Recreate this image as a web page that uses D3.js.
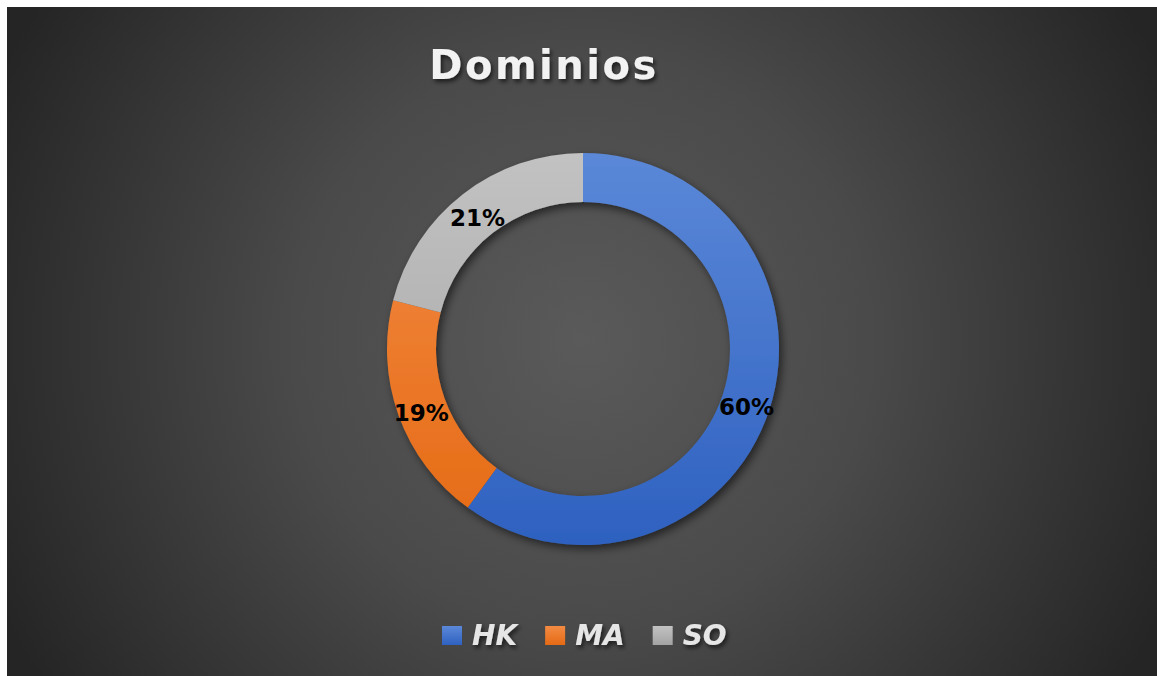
<!DOCTYPE html>
<html>
<head>
<meta charset="utf-8">
<script src="https://cdn.jsdelivr.net/npm/d3@7"></script>
<style>
  html, body { margin: 0; padding: 0; background: #fff; }
  svg { display: block; }
</style>
</head>
<body>
<script>
var categories = ["HK", "MA", "SO"];
var values = [60, 19, 21];
var colorsTop = ["#5b88d8", "#f38b44", "#c2c2c2"];
var colorsBottom = ["#2e61c0", "#e56a14", "#a3a3a3"];

var width = 1157,
  height = 676,
  cx = 583,
  cy = 349,
  outerR = 196,
  innerR = 147;

var font = "DejaVu Sans, Verdana, sans-serif";

var svg = d3.select("body").append("svg")
  .attr("width", width)
  .attr("height", height);

var defs = svg.append("defs");

var bg = defs.append("radialGradient")
  .attr("id", "bg")
  .attr("gradientUnits", "userSpaceOnUse")
  .attr("cx", 582).attr("cy", 341).attr("r", 640);
bg.append("stop").attr("offset", "0%").attr("stop-color", "#5a5a5a");
bg.append("stop").attr("offset", "45%").attr("stop-color", "#4a4a4a");
bg.append("stop").attr("offset", "100%").attr("stop-color", "#252525");

// slice gradients, in the donut group's coordinates
categories.forEach(function(c, i) {
  var g = defs.append("linearGradient")
    .attr("id", "grad" + i)
    .attr("gradientUnits", "userSpaceOnUse")
    .attr("x1", 0).attr("y1", -outerR)
    .attr("x2", 0).attr("y2", outerR);
  g.append("stop").attr("offset", "0%").attr("stop-color", colorsTop[i]);
  g.append("stop").attr("offset", "100%").attr("stop-color", colorsBottom[i]);

  var lg = defs.append("linearGradient")
    .attr("id", "lgrad" + i)
    .attr("x1", 0).attr("y1", 0).attr("x2", 0).attr("y2", 1);
  lg.append("stop").attr("offset", "0%").attr("stop-color", colorsTop[i]);
  lg.append("stop").attr("offset", "100%").attr("stop-color", colorsBottom[i]);
});

var shadow = defs.append("filter").attr("id", "shadow")
  .attr("x", "-20%").attr("y", "-20%").attr("width", "140%").attr("height", "140%");
shadow.append("feDropShadow")
  .attr("dx", 3).attr("dy", 4).attr("stdDeviation", 4)
  .attr("flood-color", "#000").attr("flood-opacity", 0.55);

var textShadow = defs.append("filter").attr("id", "textShadow")
  .attr("x", "-20%").attr("y", "-30%").attr("width", "140%").attr("height", "160%");
textShadow.append("feDropShadow")
  .attr("dx", 2).attr("dy", 3).attr("stdDeviation", 2)
  .attr("flood-color", "#000").attr("flood-opacity", 0.6);

// background panel
svg.append("rect")
  .attr("x", 7).attr("y", 7)
  .attr("width", width - 7).attr("height", height - 7)
  .attr("fill", "url(#bg)");

// title
svg.append("text")
  .attr("x", 544).attr("y", 79)
  .attr("text-anchor", "middle")
  .attr("font-family", font)
  .attr("font-weight", "bold")
  .attr("font-size", 40)
  .attr("letter-spacing", 2.5)
  .attr("fill", "#f2f2f2")
  .attr("filter", "url(#textShadow)")
  .text("Dominios");

var pie = d3.pie().sort(null).value(function(d) { return d; });
var arc = d3.arc().innerRadius(innerR).outerRadius(outerR);
var total = d3.sum(values);
var arcs = pie(values);

var chart = svg.append("g")
  .attr("transform", "translate(" + cx + "," + cy + ")");

chart.append("g")
  .attr("filter", "url(#shadow)")
  .selectAll("path")
  .data(arcs)
  .enter()
  .append("path")
  .attr("d", arc)
  .attr("fill", function(d, i) { return "url(#grad" + i + ")"; });

var labelArc = d3.arc().innerRadius(172).outerRadius(172);

chart.selectAll(".label")
  .data(arcs)
  .enter()
  .append("text")
  .attr("class", "label")
  .attr("transform", function(d) { var p = labelArc.centroid(d); return "translate(" + p[0] + "," + (p[1] + 5) + ")"; })
  .attr("text-anchor", "middle")
  .attr("dy", "0.36em")
  .attr("font-family", font)
  .attr("font-weight", "bold")
  .attr("font-size", 23)
  .attr("fill", "#000")
  .text(function(d) { return Math.round(d.value / total * 100) + "%"; });

// legend
var legend = svg.append("g").attr("transform", "translate(0,635)");
var lx = 442;
categories.forEach(function(c, i) {
  var item = legend.append("g");
  item.append("rect")
    .attr("x", lx).attr("y", -9)
    .attr("width", 20).attr("height", 19)
    .attr("fill", "url(#lgrad" + i + ")");
  var t = item.append("text")
    .attr("x", lx + 30).attr("y", 10)
    .attr("font-family", font)
    .attr("font-weight", "bold")
    .attr("font-style", "italic")
    .attr("font-size", 28)
    .attr("fill", "#e6e6e6")
    .attr("filter", "url(#textShadow)")
    .text(c);
  lx += 30 + t.node().getComputedTextLength() + 28;
});
</script>
</body>
</html>
